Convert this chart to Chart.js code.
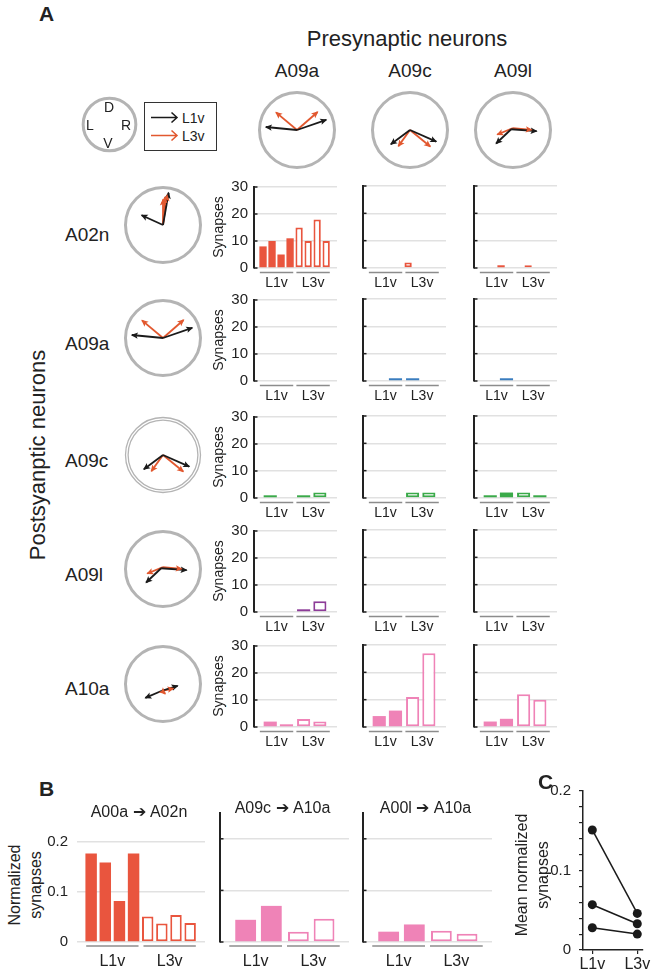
<!DOCTYPE html>
<html>
<head>
<meta charset="utf-8">
<script src="https://cdn.jsdelivr.net/npm/chart.js@4.4.1/dist/chart.umd.min.js"></script>
<style>
body { margin: 0; background: #fff; width: 660px; height: 979px; position: relative; overflow: hidden;
       font-family: "Liberation Sans", Arial, sans-serif; color: #222; }
canvas { position: absolute; }
.t { position: absolute; white-space: nowrap; line-height: 1; }
</style>
</head>
<body>
<script>
// ---- data ----
const preNeurons = ['A09a', 'A09c', 'A09l'];
const postNeurons = ['A02n', 'A09a', 'A09c', 'A09l', 'A10a'];
const groupLabels = ['L1v', 'L3v'];
const slots8 = [0, 1, 2, 3, 4, 5, 6, 7];
const slots4 = [0.8, 2.6, 4.5, 6.3];
const groupSpans = [[-0.35, 3.35], [3.7, 7.4]];
const synapseTicks = [0, 10, 20, 30];
const normTicks = [0, 0.1, 0.2];
const meanTicks = [0, 0.1, 0.2];

// synapse counts, per postsynaptic row, one list per presynaptic column (A09a, A09c, A09l)
const synA02n = [[8, 10, 5, 11, 15, 10, 18, 10], [0, 0, 0, 0, 2, 0, 0, 0], [0, 0, 1, 0, 0, 1, 0, 0]];
const synA09a = [[0, 0, 0, 0], [0, 1, 1, 0], [0, 1, 0, 0]];
const synA09c = [[1, 0, 1, 2], [0, 0, 2, 2], [1, 2, 2, 1]];
const synA09l = [[0, 0, 1, 4], [0, 0, 0, 0], [0, 0, 0, 0]];
const synA10a = [[2, 1, 3, 2], [4, 6, 11, 27], [2, 3, 12, 10]];
// 1 = open bar (L3v style)
const openA02n = [[0, 0, 0, 0, 1, 1, 1, 1], [0, 0, 0, 0, 1, 1, 1, 1], [0, 0, 0, 0, 1, 1, 1, 1]];
const openA09a = [[0, 0, 1, 1], [0, 0, 0, 1], [0, 0, 1, 1]];
const openA09c = [[0, 0, 0, 1], [0, 0, 1, 1], [0, 0, 1, 0]];
const openA09l = [[0, 0, 0, 1], [0, 0, 1, 1], [0, 0, 1, 1]];
const openA10a = [[0, 0, 1, 1], [0, 0, 1, 1], [0, 0, 1, 1]];

// panel B
const normTitles = ['A00a \u2794 A02n', 'A09c \u2794 A10a', 'A00l \u2794 A10a'];
const normA00aA02n = [0.177, 0.159, 0.082, 0.177, 0.051, 0.037, 0.054, 0.038];
const normA09cA10a = [0.043, 0.070, 0.020, 0.045];
const normA00lA10a = [0.020, 0.034, 0.022, 0.016];
const openB8 = [0, 0, 0, 0, 1, 1, 1, 1];
const openB4 = [0, 0, 1, 1];

// panel C
const meanL1v = [0.151, 0.057, 0.028];
const meanL3v = [0.046, 0.033, 0.020];

// direction vectors [x0, y0, x1, y1], unit = circle radius, y up
const a09aL1v = [[0, 0, -0.83, 0.08], [0, 0, 0.78, 0.27]];
const a09aL3v = [[0, 0, -0.56, 0.47], [0, 0, 0.55, 0.48]];
const a09cL1v = [[0, 0, -0.51, -0.38], [0, 0, 0.70, -0.31]];
const a09cL3v = [[0, 0, -0.31, -0.43], [0, 0, 0.54, -0.44]];
const a09lL1v = [[-0.05, 0.02, 0.63, -0.03], [-0.05, 0.02, -0.45, -0.36]];
const a09lL3v = [[0, 0.05, 0.5, 0.0], [0, 0.05, -0.42, -0.12]];
const a02nL1v = [[0, 0, -0.57, 0.26], [0, 0, 0.15, 0.86]];
const a02nL3v = [[0, 0, 0.0, 0.68], [0, 0, 0.05, 0.74], [0, 0, 0.11, 0.8]];
const a10aL1v = [[-0.03, -0.18, -0.47, -0.37], [-0.03, -0.18, 0.39, -0.05]];
const a10aL3v = [[-0.03, -0.18, 0.28, -0.12], [-0.03, -0.18, 0.06, -0.26]];

// ---- drawing ----
const FONT = '"Liberation Sans", Arial, sans-serif';
const INK = '#222';
const BLACK = '#1a1a1a';
const ORANGE = '#e2582f';
const rowColors = ['#e9553e', '#3a7dbf', '#3aaa49', '#8d3c98', '#ef83b7'];
Chart.defaults.font.family = FONT;
Chart.defaults.color = INK;

function addCanvas(left, top, w, h) {
  const c = document.createElement('canvas');
  c.width = w; c.height = h;
  c.style.left = left + 'px'; c.style.top = top + 'px';
  c.style.width = w + 'px'; c.style.height = h + 'px';
  document.body.appendChild(c);
  return c;
}

function text(s, x, y, size, align, extra) {
  const d = document.createElement('div');
  d.className = 't';
  d.textContent = s;
  const tx = align === 'left' ? '0' : align === 'right' ? '-100%' : '-50%';
  d.style.cssText = `left:${x}px;top:${y}px;font-size:${size}px;transform:translate(${tx},-50%) ${extra || ''};`;
  document.body.appendChild(d);
  return d;
}

function decoPlugin(opt) {
  return {
    id: 'deco',
    afterDraw(chart) {
      const { ctx, chartArea: a, scales: { x, y } } = chart;
      ctx.save();
      if (opt.axis) {
        ctx.strokeStyle = INK; ctx.lineWidth = 1.5;
        opt.ticks.forEach(v => {
          const py = y.getPixelForValue(v);
          ctx.beginPath(); ctx.moveTo(a.left, py); ctx.lineTo(a.left + 3.5, py); ctx.stroke();
        });
      }
      ctx.font = `${opt.groupSize}px ${FONT}`;
      ctx.fillStyle = INK; ctx.textAlign = 'center'; ctx.textBaseline = 'middle';
      groupSpans.forEach((g, i) => {
        const x0 = x.getPixelForValue(g[0]), x1 = x.getPixelForValue(g[1]);
        ctx.strokeStyle = '#8c8c8c'; ctx.lineWidth = 1.5;
        ctx.beginPath(); ctx.moveTo(x0, a.bottom + opt.lineGap); ctx.lineTo(x1, a.bottom + opt.lineGap); ctx.stroke();
        ctx.fillText(groupLabels[i], (x0 + x1) / 2, a.bottom + opt.labelGap);
      });
      if (opt.title) {
        ctx.font = `16px ${FONT}`;
        ctx.fillText(opt.title, (a.left + a.right) / 2 - 2, a.top - 4);
      }
      ctx.restore();
    }
  };
}

function barPanel(area, opt) {
  const padL = 60, padT = 14, padR = 6, padB = 32;
  const w = area.r - area.l + padL + padR, h = area.b - area.t + padT + padB;
  const cv = addCanvas(area.l - padL, area.t - padT, w, h);
  const vals = opt.values, open = opt.open;
  new Chart(cv, {
    type: 'bar',
    data: {
      datasets: [{
        data: opt.xs.map((x, i) => ({ x, y: vals[i] })),
        backgroundColor: c => open[c.dataIndex] ? '#fff' : opt.color,
        borderColor: opt.color,
        borderWidth: c => (open[c.dataIndex] && vals[c.dataIndex] > 0) ? 2 : 0,
        borderSkipped: false,
        barPercentage: 0.81,
        categoryPercentage: 1
      }]
    },
    options: {
      responsive: false, animation: false, events: [],
      layout: { padding: { left: 0, top: padT, right: padR, bottom: padB } },
      plugins: { legend: { display: false }, tooltip: { enabled: false } },
      scales: {
        x: { type: 'linear', display: false, offset: false, min: -1, max: opt.xMax },
        y: {
          min: 0, max: opt.yMax,
          afterFit: s => { s.width = padL; },
          afterBuildTicks: s => { s.ticks = opt.ticks.map(v => ({ value: v })); },
          ticks: { display: opt.showTicks, color: INK, padding: opt.tickPad, autoSkip: false,
                   font: { size: 15 }, callback: v => String(v) },
          grid: { color: '#e1e1e1', lineWidth: 1.5, drawTicks: false },
          border: { display: opt.axis, color: INK, width: 2 }
        }
      }
    },
    plugins: [decoPlugin(opt)]
  });
}

function dial(cx, cy, r, l1v, l3v, doubleRing) {
  const lim = 1.12, p = 3;
  const s = Math.round(2 * lim * r), size = s + 2 * p;
  const cv = addCanvas(Math.round(cx - size / 2), Math.round(cy - size / 2), size, size);
  const arrowSet = (a, c) => ({
    data: [{ x: a[0], y: a[1] }, { x: a[2], y: a[3] }],
    showLine: true, borderColor: c, backgroundColor: c, borderWidth: 1.8, pointRadius: 0
  });
  new Chart(cv, {
    type: 'scatter',
    data: { datasets: [...l1v.map(a => arrowSet(a, BLACK)), ...l3v.map(a => arrowSet(a, ORANGE))] },
    options: {
      responsive: false, animation: false, events: [],
      layout: { padding: p },
      plugins: { legend: { display: false }, tooltip: { enabled: false } },
      scales: {
        x: { type: 'linear', display: false, min: -lim, max: lim },
        y: { type: 'linear', display: false, min: -lim, max: lim }
      }
    },
    plugins: [{
      id: 'ring',
      beforeDatasetsDraw(chart) {
        const { ctx, scales: { x, y } } = chart;
        const ox = x.getPixelForValue(0), oy = y.getPixelForValue(0);
        const rx = x.getPixelForValue(1) - ox, ry = oy - y.getPixelForValue(1);
        ctx.save();
        ctx.strokeStyle = '#b4b4b4';
        const rings = doubleRing ? [[0, 1.3], [2.6, 1.3]] : [[0, 3]];
        rings.forEach(([d, lw]) => {
          ctx.lineWidth = lw;
          ctx.beginPath(); ctx.ellipse(ox, oy, rx - d, ry - d, 0, 0, Math.PI * 2); ctx.stroke();
        });
        ctx.restore();
      },
      afterDatasetsDraw(chart) {
        const ctx = chart.ctx;
        chart.data.datasets.forEach((ds, i) => {
          const [a, b] = chart.getDatasetMeta(i).data;
          const ang = Math.atan2(b.y - a.y, b.x - a.x);
          ctx.save();
          ctx.translate(b.x, b.y); ctx.rotate(ang);
          ctx.fillStyle = ds.borderColor;
          ctx.beginPath();
          ctx.moveTo(1, 0); ctx.lineTo(-6, -3.2); ctx.lineTo(-4.5, 0); ctx.lineTo(-6, 3.2);
          ctx.closePath(); ctx.fill();
          ctx.restore();
        });
      }
    }]
  });
}

// ---- panel A ----
text('A', 39, 13, 21, 'left', '').style.fontWeight = 'bold';
text('Presynaptic neurons', 407, 39, 22, 'center');
const colAxis = [254, 363, 474];
const colTitleX = [297, 410, 513];
preNeurons.forEach((n, i) => text(n, colTitleX[i], 70, 19, 'center'));
text('Postsyanptic neurons', 38, 455, 22, 'center', 'rotate(-90deg)');

// compass + legend
dial(109, 124.5, 26.5, [], [], false);
text('D', 109, 107, 14, 'center');
text('L', 90, 125, 14, 'center');
text('R', 126, 125, 14, 'center');
text('V', 108, 143, 14, 'center');
const lg = document.createElement('div');
lg.innerHTML = `<svg width="73" height="49" style="position:absolute;left:144px;top:102px">
<rect x="0.5" y="0.5" width="72" height="48" fill="#fff" stroke="#333" stroke-width="1"/>
<path d="M7 15.5 H33 M27.5 10.5 L33 15.5 L27.5 20.5" stroke="${BLACK}" stroke-width="1.5" fill="none"/>
<path d="M7 33.5 H33 M27.5 28.5 L33 33.5 L27.5 38.5" stroke="${ORANGE}" stroke-width="1.5" fill="none"/>
<text x="38" y="16" font-size="14" dominant-baseline="central" font-family='Liberation Sans, Arial' fill="#222">L1v</text>
<text x="38" y="34" font-size="14" dominant-baseline="central" font-family='Liberation Sans, Arial' fill="#222">L3v</text>
</svg>`;
document.body.appendChild(lg);

// presynaptic dials
dial(297, 129.5, 37.5, a09aL1v, a09aL3v, false);
dial(410, 130, 37.5, a09cL1v, a09cL3v, false);
dial(513, 130, 37.5, a09lL1v, a09lL3v, false);

// postsynaptic rows
const rowTop = [186, 299, 416, 530, 645];
const rowBottom = [268, 381, 498, 612, 727];
const rowLabelY = [234, 343, 460, 574, 688];
const rowSyn = [synA02n, synA09a, synA09c, synA09l, synA10a];
const rowOpen = [openA02n, openA09a, openA09c, openA09l, openA10a];
const rowDials = [[a02nL1v, a02nL3v], [a09aL1v, a09aL3v], [a09cL1v, a09cL3v], [a09lL1v, a09lL3v], [a10aL1v, a10aL3v]];

postNeurons.forEach((n, r) => {
  const mid = (rowTop[r] + rowBottom[r]) / 2;
  text(n, 65, rowLabelY[r], 19, 'left');
  dial(163, mid - 2, 37.5, rowDials[r][0], rowDials[r][1], r === 2);
  text('Synapses', 218, mid, 14, 'center', 'rotate(-90deg)');
  rowSyn[r].forEach((vals, c) => {
    barPanel({ l: colAxis[c], r: colAxis[c] + 83, t: rowTop[r], b: rowBottom[r] }, {
      values: vals, open: rowOpen[r][c], xs: vals.length === 8 ? slots8 : slots4,
      color: rowColors[r], yMax: 30, ticks: synapseTicks, xMax: 8.2,
      showTicks: c === 0, tickPad: 6, axis: true,
      groupSize: 14, lineGap: 4.5, labelGap: 15.5
    });
  });
});

// ---- panel B ----
text('B', 39, 788, 21, 'left').style.fontWeight = 'bold';
text('Normalized', 15, 885, 16, 'center', 'rotate(-90deg)');
text('synapses', 36, 885, 16, 'center', 'rotate(-90deg)');
const bAreas = [[77, 205], [220, 349], [363, 492]];
const bVals = [normA00aA02n, normA09cA10a, normA00lA10a];
const bOpen = [openB8, openB4, openB4];
const bColors = [rowColors[0], rowColors[4], rowColors[4]];
bVals.forEach((vals, i) => {
  barPanel({ l: bAreas[i][0], r: bAreas[i][1], t: 813, b: 942 }, {
    values: vals, open: bOpen[i], xs: vals.length === 8 ? slots8 : slots4,
    color: bColors[i], yMax: 0.25, ticks: normTicks, xMax: 8.05,
    showTicks: i === 0, tickPad: 9, axis: i > 0,
    groupSize: 16, lineGap: 4, labelGap: 20, title: normTitles[i]
  });
});

// ---- panel C ----
text('C', 538, 781, 21, 'left').style.fontWeight = 'bold';
text('Mean normalized', 522, 875, 16, 'center', 'rotate(-90deg)');
text('synapses', 543, 875, 16, 'center', 'rotate(-90deg)');
(function () {
  const padL = 50, padT = 12, padR = 10, padB = 28;
  const area = { l: 583, r: 643, t: 786, b: 950 };
  const cv = addCanvas(area.l - padL, area.t - padT, area.r - area.l + padL + padR, area.b - area.t + padT + padB);
  const isLabel = v => meanTicks.find(t => Math.abs(t - v) < 1e-9);
  new Chart(cv, {
    type: 'line',
    data: {
      datasets: meanL1v.map((v, i) => ({
        data: [{ x: 0, y: v }, { x: 1, y: meanL3v[i] }],
        borderColor: BLACK, backgroundColor: BLACK, borderWidth: 1.5,
        pointRadius: 4.5, pointBorderWidth: 0
      }))
    },
    options: {
      responsive: false, animation: false, events: [],
      layout: { padding: { left: 0, top: padT, right: padR, bottom: 0 } },
      plugins: { legend: { display: false }, tooltip: { enabled: false } },
      scales: {
        x: {
          type: 'linear', min: -0.207, max: 1.127,
          afterFit: s => { s.height = padB; },
          afterBuildTicks: s => { s.ticks = groupLabels.map((_, i) => ({ value: i })); },
          ticks: { autoSkip: false, maxRotation: 0, padding: 1, font: { size: 16 }, color: INK,
                   callback: v => groupLabels[v] },
          grid: { drawOnChartArea: false, tickLength: 4, color: INK, lineWidth: 1.2 },
          border: { color: INK, width: 1.5 }
        },
        y: {
          min: 0, max: 0.2,
          afterFit: s => { s.width = padL; },
          afterBuildTicks: s => { s.ticks = Array.from({ length: 11 }, (_, i) => ({ value: i * 0.02 })); },
          ticks: { autoSkip: false, padding: 8, font: { size: 15 }, color: INK,
                   callback: v => { const t = isLabel(v); return t === undefined ? '' : String(t); } },
          grid: { drawOnChartArea: false, tickLength: 4, color: INK, lineWidth: 1.2 },
          border: { color: INK, width: 1.5 }
        }
      }
    }
  });
})();
</script>
</body>
</html>
